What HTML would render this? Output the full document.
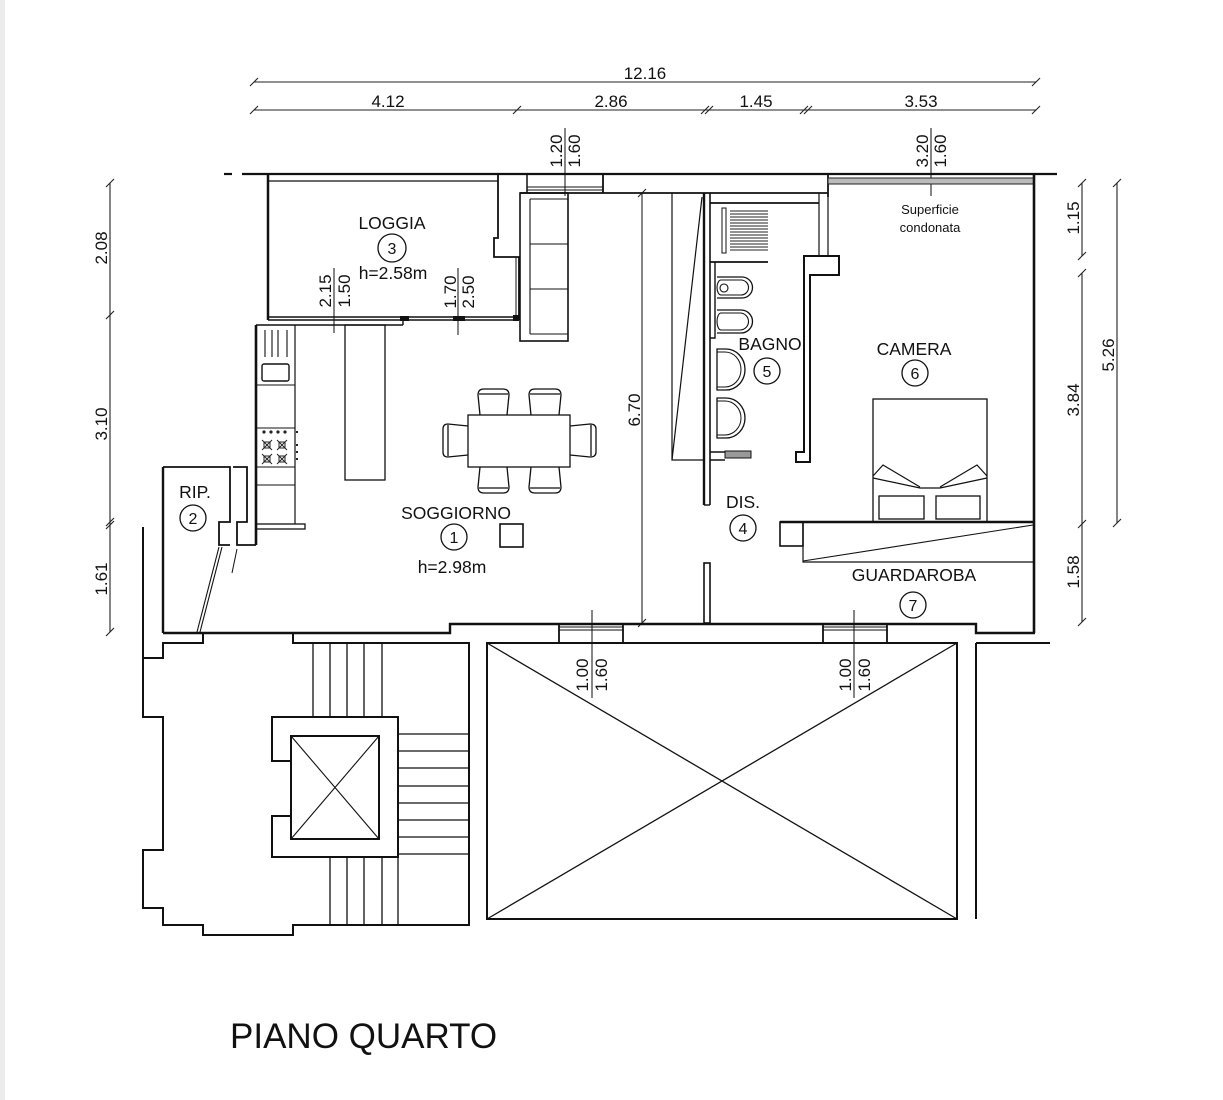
<!DOCTYPE html>
<html>
<head>
<meta charset="utf-8">
<style>
  html,body{margin:0;padding:0;background:#fff;}
  svg{display:block;}
  text{font-family:"Liberation Sans",Arial,sans-serif;fill:#111;}
</style>
</head>
<body>
<svg width="1223" height="1100" viewBox="0 0 1223 1100" xmlns="http://www.w3.org/2000/svg">
  <rect x="0" y="0" width="1223" height="1100" fill="#fff"/>
  <rect x="0" y="0" width="5" height="1100" fill="#ececec"/>

  <!-- ===== DIMENSION LINES ===== -->
  <g stroke="#222" stroke-width="1.1" fill="none">
    <!-- top -->
    <line x1="254" y1="82" x2="1036" y2="82"/>
    <line x1="254" y1="110" x2="1036" y2="110"/>
    <path d="M250 86 L258 78 M1032 86 L1040 78"/>
    <path d="M250 114 L258 106 M513 114 L521 106 M701 114 L709 106 M705 114 L713 106 M800 114 L808 106 M804 114 L812 106 M1032 114 L1040 106"/>
    <!-- left -->
    <line x1="110" y1="183" x2="110" y2="632"/>
    <path d="M106 187 L114 179 M106 319 L114 311 M106 529 L114 521 M106 526 L114 518 M106 636 L114 628"/>
    <!-- right -->
    <line x1="1082" y1="183" x2="1082" y2="256"/>
    <line x1="1082" y1="273" x2="1082" y2="622"/>
    <path d="M1078 187 L1086 179 M1078 260 L1086 252 M1078 277 L1086 269 M1078 528 L1086 520 M1078 626 L1086 618"/>
    <line x1="1117" y1="183" x2="1117" y2="523"/>
    <path d="M1113 187 L1121 179 M1113 527 L1121 519"/>
    <!-- 6.70 -->
    <line x1="642" y1="193" x2="642" y2="623"/>
    <path d="M638 197 L646 189 M638 627 L646 619"/>
    <!-- window height marks -->
    <line x1="334" y1="268" x2="334" y2="333"/>
    <line x1="458" y1="268" x2="458" y2="335"/>
    <line x1="565" y1="128" x2="565" y2="196"/>
    <line x1="931" y1="128" x2="931" y2="196"/>
    <line x1="592" y1="610" x2="592" y2="698"/>
    <line x1="854" y1="610" x2="854" y2="698"/>
  </g>

  <!-- dimension texts -->
  <g font-size="17" text-anchor="middle">
    <text x="645" y="79">12.16</text>
    <text x="388" y="107">4.12</text>
    <text x="611" y="107">2.86</text>
    <text x="756" y="107">1.45</text>
    <text x="921" y="107">3.53</text>
    <text transform="translate(107,248) rotate(-90)">2.08</text>
    <text transform="translate(107,424) rotate(-90)">3.10</text>
    <text transform="translate(107,579) rotate(-90)">1.61</text>
    <text transform="translate(1079,218) rotate(-90)">1.15</text>
    <text transform="translate(1079,400) rotate(-90)">3.84</text>
    <text transform="translate(1079,572) rotate(-90)">1.58</text>
    <text transform="translate(1114,355) rotate(-90)">5.26</text>
    <text transform="translate(640,410) rotate(-90)">6.70</text>
    <text transform="translate(331,291) rotate(-90)">2.15</text>
    <text transform="translate(350,291) rotate(-90)">1.50</text>
    <text transform="translate(456,292) rotate(-90)">1.70</text>
    <text transform="translate(474,292) rotate(-90)">2.50</text>
    <text transform="translate(562,151) rotate(-90)">1.20</text>
    <text transform="translate(580,151) rotate(-90)">1.60</text>
    <text transform="translate(928,151) rotate(-90)">3.20</text>
    <text transform="translate(946,151) rotate(-90)">1.60</text>
    <text transform="translate(588,675) rotate(-90)">1.00</text>
    <text transform="translate(607,675) rotate(-90)">1.60</text>
    <text transform="translate(851,675) rotate(-90)">1.00</text>
    <text transform="translate(870,675) rotate(-90)">1.60</text>
  </g>

  <!-- ===== WALLS / OUTLINES ===== -->
  <g stroke="#111" fill="none" stroke-linejoin="miter">
    <!-- top wall -->
    <line x1="224" y1="174" x2="232" y2="174" stroke-width="2.2"/>
    <line x1="242" y1="174" x2="1057" y2="174" stroke-width="2.2"/>
    <line x1="268" y1="181" x2="498" y2="181" stroke-width="1.3"/>
    <line x1="268" y1="174" x2="268" y2="320" stroke-width="2.5"/>
    <path d="M498 174 V238 H494 V257 H519 V320" stroke-width="1.8"/>
    <line x1="516" y1="257" x2="516" y2="320" stroke-width="1"/>
    <line x1="527" y1="174" x2="527" y2="193" stroke-width="1.5"/>
    <line x1="527" y1="187" x2="603" y2="187" stroke-width="1"/>
    <line x1="527" y1="190" x2="603" y2="190" stroke-width="1"/>
    <line x1="520" y1="193" x2="828" y2="193" stroke-width="1.8"/>
    <line x1="603" y1="174" x2="603" y2="193" stroke-width="1.8"/>
    <line x1="828" y1="174" x2="828" y2="197" stroke-width="1.8"/>
    <rect x="828" y="178" width="206" height="6" fill="#bbb" stroke="#222" stroke-width="1"/>
    <line x1="1034" y1="174" x2="1034" y2="633" stroke-width="2.6"/>

    <!-- loggia bottom -->
    <line x1="268" y1="317" x2="519" y2="317" stroke-width="1.4"/>
    <line x1="268" y1="320" x2="519" y2="320" stroke-width="1.4"/>
    <line x1="256" y1="325" x2="403" y2="325" stroke-width="1.6"/>
    <line x1="403" y1="320" x2="403" y2="325" stroke-width="1.4"/>

    <!-- sofa -->
    <rect x="520" y="193" width="48" height="148" stroke-width="1.6"/>
    <path d="M530 199 V334 M530 199 H568 M530 244 H568 M530 289 H568 M530 334 H568" stroke-width="1.1"/>

    <!-- kitchen -->
    <line x1="256" y1="325" x2="256" y2="545" stroke-width="2.6"/>
    <line x1="295" y1="325" x2="295" y2="524" stroke-width="1.2"/>
    <path d="M256 385 H295 M256 428 H295 M256 467 H295 M256 485 H295" stroke-width="1.1"/>
    <path d="M265 330 V357 M272 330 V357 M278 330 V357 M287 330 V357" stroke-width="1.1"/>
    <rect x="262" y="364" width="27" height="17" rx="2" stroke-width="1.4"/>
    <rect x="256" y="524" width="49" height="5" stroke-width="1.3"/>
    <!-- island -->
    <rect x="345" y="325" width="40" height="155" stroke-width="1.3"/>

    <!-- RIP -->
    <line x1="163" y1="467" x2="163" y2="633" stroke-width="2.4"/>
    <path d="M163 467 H230 V522 H219 V545 H230" stroke-width="1.8"/>
    <path d="M233 467 H247 V522 H237 V545 H256" stroke-width="1.8"/>
    <line x1="219" y1="547" x2="197" y2="632" stroke-width="1.1"/>
    <line x1="222" y1="547" x2="200" y2="632" stroke-width="1.1"/>
    <line x1="237" y1="549" x2="232" y2="573" stroke-width="1"/>

    <!-- bottom wall -->
    <path d="M163 633 H450 V624 H976 V633 H1035" stroke-width="2.4"/>
    <path d="M143 658 H163 V643 H203 V633" stroke-width="2"/>
    <path d="M293 633 V643 H470" stroke-width="2"/>
    <rect x="559" y="624" width="64" height="19" stroke-width="1.8"/>
    <rect x="823" y="624" width="64" height="19" stroke-width="1.8"/>
    <path d="M559 627 H623 M559 630 H623 M823 627 H887 M823 630 H887" stroke-width="1"/>
    <line x1="976" y1="643" x2="1050" y2="643" stroke-width="2"/>
    <line x1="976" y1="643" x2="976" y2="919" stroke-width="2"/>

    <!-- stair building -->
    <path d="M143 527 V717 H163 V850 H143 V908 H163 V925 H203 V935 H293 V925 H469 V643" stroke-width="2"/>
    <path d="M313 643 V717 M330 643 V717 M347 643 V717 M364 643 V717 M382 643 V717" stroke-width="1.3"/>
    <path d="M291 761 H272 V717 H398 V857 H272 V816 H291" stroke-width="2"/>
    <rect x="291" y="736" width="88" height="103" stroke-width="2"/>
    <path d="M291 736 L379 839 M379 736 L291 839" stroke-width="1.1"/>
    <path d="M398 734 H468 M398 751 H468 M398 768 H468 M398 786 H468 M398 803 H468 M398 820 H468 M398 837 H468 M398 854 H468" stroke-width="1.3"/>
    <path d="M330 857 V925 M347 857 V925 M364 857 V925 M382 857 V925 M398 857 V925" stroke-width="1.3"/>

    <!-- void -->
    <rect x="487" y="643" width="470" height="276" stroke-width="2"/>
    <path d="M487 643 L957 919 M957 643 L487 919" stroke-width="1.3"/>

    <!-- sliding element -->
    <path d="M672 193 V460 H703" stroke-width="1.2"/>
    <line x1="672" y1="460" x2="702" y2="197" stroke-width="1.2"/>

    <!-- bagno walls -->
    <line x1="704" y1="193" x2="704" y2="505" stroke-width="2.4"/>
    <line x1="710" y1="193" x2="710" y2="505" stroke-width="1.6"/>
    <line x1="704" y1="505" x2="710" y2="505" stroke-width="1.4"/>
    <rect x="704" y="563" width="6" height="60" stroke-width="1.6"/>
    <path d="M710 452 H725 M710 460 H725" stroke-width="1.4"/>
    <rect x="725" y="451" width="26" height="7" fill="#999" stroke-width="1"/>
    <line x1="710" y1="203" x2="819" y2="203" stroke-width="1.8"/>
    <path d="M819 193 V256 M828 197 V256" stroke-width="1.2"/>
    <rect x="715" y="203" width="53" height="59" stroke="none"/>
    <line x1="710" y1="262" x2="768" y2="262" stroke-width="1.8"/>
    <rect x="722" y="208" width="4" height="45" stroke-width="1"/>
    <path d="M715 262 V338 H710" stroke-width="1.4"/>
    <!-- WC / bidet -->
    <path d="M717 277 H742 A10.5 10.5 0 0 1 742 298 H717" stroke-width="1.3"/>
    <path d="M721 280 H741 A7.5 7.5 0 0 1 741 295 H721 A4 7.5 0 0 1 721 280 Z" stroke-width="1.1"/>
    <circle cx="724" cy="288" r="4" stroke-width="1.1"/>
    <path d="M717 310 H741 A11.5 11.5 0 0 1 741 333 H717" stroke-width="1.3"/>
    <path d="M721 313 H740 A8.5 8.5 0 0 1 740 330 H721 A4 8.5 0 0 1 721 313 Z" stroke-width="1.1"/>
    <!-- sinks -->
    <path d="M717 349 H726 A19 20.5 0 0 1 726 390 H717 Z" stroke-width="1.3"/>
    <path d="M717 352 H725 A16 17.5 0 0 1 725 387 H717" stroke-width="1"/>
    <path d="M717 398 H726 A19 20 0 0 1 726 438 H717 Z" stroke-width="1.3"/>
    <path d="M717 401 H725 A16 17 0 0 1 725 435 H717" stroke-width="1"/>
    <!-- bagno / camera wall -->
    <path d="M804 256 H839 V275 H810 V462 H796 V452 H804 Z" stroke-width="2"/>

    <!-- bed -->
    <rect x="873" y="399" width="114" height="123" stroke-width="1.3"/>
    <rect x="879" y="496" width="45" height="23" stroke-width="1.3"/>
    <rect x="936" y="496" width="44" height="23" stroke-width="1.3"/>
    <path d="M873 476 L883 465 L920 487 M987 476 L977 465 L940 487 M873 478 L920 488 H940 L987 478" stroke-width="1.2"/>

    <!-- guardaroba -->
    <line x1="780" y1="522" x2="1034" y2="522" stroke-width="2.6"/>
    <rect x="780" y="522" width="23" height="24" stroke-width="1.6"/>
    <path d="M803 522 V562 H1034" stroke-width="1.2"/>
    <line x1="803" y1="561" x2="1033" y2="525" stroke-width="1.1"/>
  </g>

  <!-- shower hatching -->
  <g stroke="#222" stroke-width="1">
    <path d="M730 211 H768 M730 214 H768 M730 217 H768 M730 220 H768 M730 223 H768 M730 226 H768 M730 229 H768 M730 232 H768 M730 235 H768 M730 238 H768 M730 241 H768 M730 244 H768 M730 247 H768 M730 250 H768"/>
  </g>

  <!-- window markers loggia -->
  <g fill="#111">
    <rect x="400" y="316" width="9" height="5"/>
    <rect x="453" y="316" width="12" height="5"/>
    <rect x="513" y="315" width="6" height="6"/>
  </g>

  <!-- stove -->
  <g fill="#222">
    <circle cx="264" cy="432" r="1.6"/>
    <circle cx="271" cy="432" r="1.6"/>
    <circle cx="278" cy="432" r="1.6"/>
    <circle cx="285" cy="432" r="1.6"/>
  </g>
  <g stroke="#222" stroke-width="1" fill="none">
    <rect x="264" y="442" width="6" height="6"/><path d="M262 440 L272 450 M272 440 L262 450"/>
    <rect x="279" y="442" width="6" height="6"/><path d="M277 440 L287 450 M287 440 L277 450"/>
    <rect x="264" y="456" width="6" height="6"/><path d="M262 454 L272 464 M272 454 L262 464"/>
    <rect x="279" y="456" width="6" height="6"/><path d="M277 454 L287 464 M287 454 L277 464"/>
    <path d="M296 432 h2 M296 445 h2 M296 452 h2 M296 459 h2" stroke-width="2"/>
  </g>

  <!-- dining table and chairs -->
  <g stroke="#111" stroke-width="1.3" fill="none">
    <rect x="468" y="415" width="102" height="52"/>
    <!-- top chairs -->
    <path d="M480 415 L478 395 Q478 389 484 389 H503 Q509 389 509 395 L507 415 M479 394 H508"/>
    <path d="M531 415 L529 395 Q529 389 535 389 H555 Q561 389 561 395 L559 415 M530 394 H560"/>
    <!-- bottom chairs -->
    <path d="M480 467 L478 487 Q478 493 484 493 H503 Q509 493 509 487 L507 467 M479 488 H508"/>
    <path d="M531 467 L529 487 Q529 493 535 493 H555 Q561 493 561 487 L559 467 M530 488 H560"/>
    <!-- side chairs -->
    <path d="M468 426 L448 424 Q443 424 443 429 V452 Q443 457 448 457 L468 455 M448 425 V456"/>
    <path d="M570 426 L590 424 Q596 424 596 429 V452 Q596 457 590 457 L570 455 M591 425 V456"/>
    <!-- small square -->
    <rect x="500" y="524" width="23" height="23" stroke-width="1.6"/>
  </g>

  <!-- room circles -->
  <g stroke="#111" stroke-width="1.3" fill="none">
    <circle cx="454" cy="537" r="13"/>
    <circle cx="193" cy="518" r="13"/>
    <circle cx="392" cy="248" r="14"/>
    <circle cx="743" cy="528" r="13"/>
    <circle cx="767" cy="371" r="13"/>
    <circle cx="915" cy="373" r="13"/>
    <circle cx="913" cy="605" r="13"/>
  </g>
  <g font-size="16" text-anchor="middle">
    <text x="454" y="543">1</text>
    <text x="193" y="524">2</text>
    <text x="392" y="254">3</text>
    <text x="743" y="534">4</text>
    <text x="767" y="377">5</text>
    <text x="915" y="379">6</text>
    <text x="913" y="611">7</text>
  </g>

  <!-- room labels -->
  <g font-size="17.5" text-anchor="middle">
    <text x="392" y="229">LOGGIA</text>
    <text x="393" y="279">h=2.58m</text>
    <text x="456" y="519">SOGGIORNO</text>
    <text x="452" y="573">h=2.98m</text>
    <text x="195" y="498">RIP.</text>
    <text x="743" y="508">DIS.</text>
    <text x="770" y="350">BAGNO</text>
    <text x="914" y="355">CAMERA</text>
    <text x="914" y="581">GUARDAROBA</text>
  </g>
  <g font-size="13" text-anchor="middle">
    <text x="930" y="214">Superficie</text>
    <text x="930" y="232">condonata</text>
  </g>

  <text x="230" y="1048" font-size="35">PIANO QUARTO</text>
</svg>
</body>
</html>
